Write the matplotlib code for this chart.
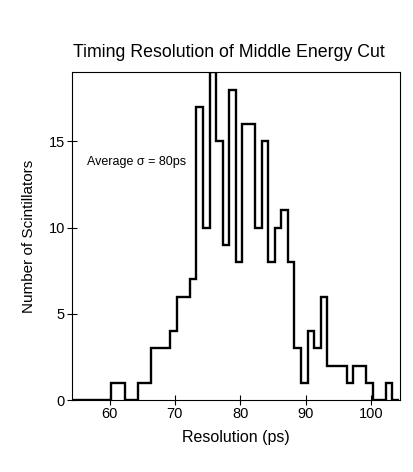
import numpy as np
import matplotlib
matplotlib.use("Agg")
import matplotlib.pyplot as plt

plt.rcParams['font.family'] = ['Liberation Sans', 'DejaVu Sans']

# bin edges (1 ps wide) and counts per bin
bin_start = 54.3
counts = [0, 0, 0, 0, 0, 0, 1, 1, 0, 0,
          1, 1, 3, 3, 3, 4, 6, 6, 7, 17,
          10, 19, 15, 9, 18, 8, 16, 16, 10, 15,
          8, 10, 11, 8, 3, 1, 4, 3, 6, 2,
          2, 2, 1, 2, 2, 1, 0, 0, 1, 0]
edges = bin_start + np.arange(len(counts) + 1)

xticks = [60, 70, 80, 90, 100]
yticks = [0, 5, 10, 15]

fig = plt.figure(figsize=(4.14, 4.72), dpi=100)
ax = fig.add_axes([0.1746, 0.1525, 0.7923, 0.6943])

ax.stairs(counts, edges, color='black', linewidth=1.7, baseline=None)

ax.set_xlim(54.3, 104.5)
ax.set_ylim(0, 19)
ax.set_xticks(xticks)
ax.set_yticks(yticks)
ax.tick_params(direction='inout', length=6.5, width=0.8, labelsize=10.5, pad=2)
for s in ax.spines.values():
    s.set_linewidth(0.8)

ax.text(56.6, 13.8, 'Average σ = 80ps', fontsize=9, ha='left', va='center')

fig.text(0.552, 0.879, 'Timing Resolution of Middle Energy Cut', fontsize=12.8,
         ha='center', va='baseline')
ax.set_xlabel('Resolution (ps)', fontsize=11.5, labelpad=6)
ax.set_ylabel('Number of Scintillators', fontsize=11, labelpad=9)

fig.savefig('out.png', dpi=100)
